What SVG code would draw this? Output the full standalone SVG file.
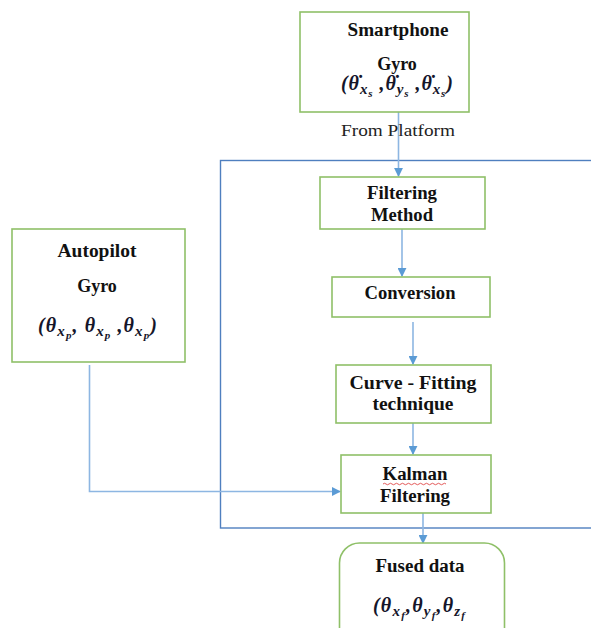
<svg xmlns="http://www.w3.org/2000/svg" width="591" height="628" viewBox="0 0 591 628">
  <defs>
    <style>
      .box { fill: #ffffff; stroke: #8fc068; stroke-width: 1.6; }
      .frame { fill: none; stroke: #4f7fbf; stroke-width: 1.4; }
      .link { fill: none; stroke: #8db6e2; stroke-width: 1.6; }
      .lbl { font-family: "Liberation Serif", "Times New Roman", serif; font-weight: bold; font-size: 18px; fill: #111111; text-anchor: middle; }
      .plain { font-family: "Liberation Serif", "Times New Roman", serif; font-size: 16px; fill: #222222; text-anchor: middle; }
      .math { font-family: "Liberation Serif", "Times New Roman", serif; font-weight: bold; font-style: italic; font-size: 20px; fill: #15152a; }
      .sub { font-size: 15px; }
      .sub2 { font-size: 11px; }
    </style>
    <marker id="arrow" viewBox="0 0 10 10" refX="9" refY="5" markerWidth="9" markerHeight="9" markerUnits="userSpaceOnUse" orient="auto">
      <path d="M0,0 L10,5 L0,10 Z" fill="#5b9bd5"/>
    </marker>
  </defs>

  <!-- outer processing frame (runs off the right edge) -->
  <rect class="frame" x="220.5" y="160.5" width="500" height="367.5"/>

  <!-- connectors -->
  <g id="connectors">
    <line class="link" x1="398.5" y1="112" x2="398.5" y2="176" marker-end="url(#arrow)"/>
    <line class="link" x1="402" y1="229" x2="402" y2="276" marker-end="url(#arrow)"/>
    <line class="link" x1="413" y1="322" x2="413" y2="364" marker-end="url(#arrow)"/>
    <line class="link" x1="413" y1="423" x2="413" y2="454" marker-end="url(#arrow)"/>
    <line class="link" x1="423" y1="513" x2="423" y2="543" marker-end="url(#arrow)"/>
    <polyline class="link" points="89.5,365 89.5,491.5 340,491.5" marker-end="url(#arrow)"/>
  </g>

  <!-- smartphone gyro source -->
  <g id="smartphone">
    <rect class="box" x="300" y="12" width="169" height="100"/>
    <text class="lbl" x="398" y="36" textLength="101" lengthAdjust="spacingAndGlyphs">Smartphone</text>
    <text class="lbl" x="397" y="70">Gyro</text>
    <text class="math" x="341" y="90" textLength="112" lengthAdjust="spacing">(θ̇<tspan dy="4" class="sub">x</tspan><tspan dy="3" class="sub2">s</tspan><tspan dy="-7"> ,θ̇</tspan><tspan dy="4" class="sub">y</tspan><tspan dy="3" class="sub2">s</tspan><tspan dy="-7"> ,θ̇</tspan><tspan dy="4" class="sub">x</tspan><tspan dy="3" class="sub2">s</tspan><tspan dy="-7">)</tspan></text>
    <text class="plain" x="398" y="136" textLength="114" lengthAdjust="spacingAndGlyphs">From Platform</text>
  </g>

  <!-- autopilot gyro source -->
  <g id="autopilot">
    <rect class="box" x="12" y="229" width="173" height="133"/>
    <text class="lbl" x="97" y="257" textLength="79" lengthAdjust="spacingAndGlyphs">Autopilot</text>
    <text class="lbl" x="97" y="292">Gyro</text>
    <text class="math" x="38" y="332" textLength="119" lengthAdjust="spacing">(θ<tspan dy="4" class="sub">x</tspan><tspan dy="3" class="sub2">p</tspan><tspan dy="-7">, θ</tspan><tspan dy="4" class="sub">x</tspan><tspan dy="3" class="sub2">p</tspan><tspan dy="-7"> ,θ</tspan><tspan dy="4" class="sub">x</tspan><tspan dy="3" class="sub2">p</tspan><tspan dy="-7">)</tspan></text>
  </g>

  <!-- processing chain -->
  <g id="filtering-method">
    <rect class="box" x="320" y="177" width="165" height="52"/>
    <text class="lbl" x="402" y="199" textLength="70" lengthAdjust="spacingAndGlyphs">Filtering</text>
    <text class="lbl" x="402" y="221" textLength="62" lengthAdjust="spacingAndGlyphs">Method</text>
  </g>

  <g id="conversion">
    <rect class="box" x="332" y="277" width="158" height="40"/>
    <text class="lbl" x="410" y="299" textLength="91" lengthAdjust="spacingAndGlyphs">Conversion</text>
  </g>

  <g id="curve-fitting">
    <rect class="box" x="336" y="365" width="155" height="58"/>
    <text class="lbl" x="413" y="389" textLength="127" lengthAdjust="spacingAndGlyphs">Curve - Fitting</text>
    <text class="lbl" x="413" y="410" textLength="81" lengthAdjust="spacingAndGlyphs">technique</text>
  </g>

  <g id="kalman">
    <rect class="box" x="341" y="455" width="150" height="58"/>
    <text class="lbl" x="415" y="480" textLength="65" lengthAdjust="spacingAndGlyphs">Kalman</text>
    <path d="M383,484 q1.5,-1.5 3,0 t3,0 t3,0 t3,0 t3,0 t3,0 t3,0 t3,0 t3,0 t3,0 t3,0 t3,0 t3,0 t3,0 t3,0 t3,0 t3,0 t3,0 t3,0 t3,0 t3,0" fill="none" stroke="#e04848" stroke-width="0.9"/>
    <text class="lbl" x="415" y="502" textLength="70" lengthAdjust="spacingAndGlyphs">Filtering</text>
  </g>

  <!-- fused output (runs off the bottom edge) -->
  <g id="fused">
    <rect class="box" x="339.5" y="543" width="165" height="140" rx="20" ry="20"/>
    <text class="lbl" x="420" y="572" textLength="89" lengthAdjust="spacingAndGlyphs">Fused data</text>
    <text class="math" x="373" y="612" textLength="92" lengthAdjust="spacing">(θ<tspan dy="4" class="sub">x</tspan><tspan dy="3" class="sub2">f</tspan><tspan dy="-7">,θ</tspan><tspan dy="4" class="sub">y</tspan><tspan dy="3" class="sub2">f</tspan><tspan dy="-7">,θ</tspan><tspan dy="4" class="sub">z</tspan><tspan dy="3" class="sub2">f</tspan></text>
  </g>
</svg>
